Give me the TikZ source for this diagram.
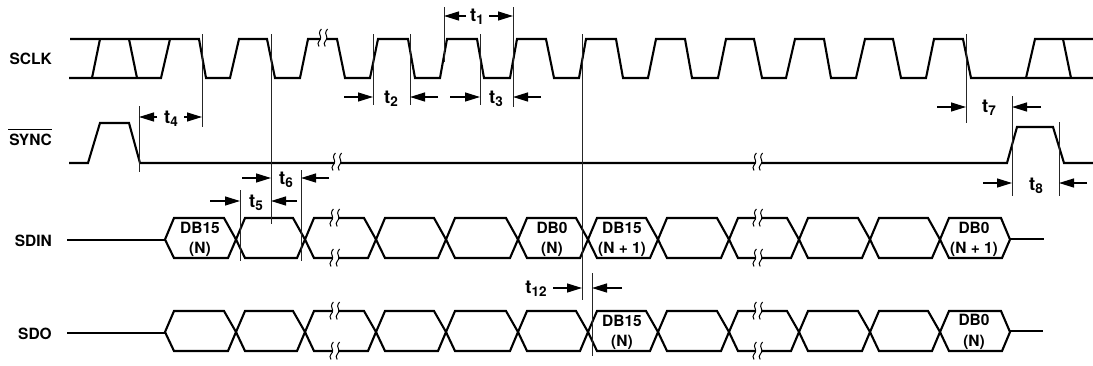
\documentclass[tikz,border=0pt]{standalone}
\usepackage{fontspec}
\setmainfont{TeX Gyre Heros}
\usetikzlibrary{arrows.meta}
\tikzset{
  wave/.style={line width=2.1pt,line join=miter,miter limit=3},
  guide/.style={line width=1pt,black!85},
  dim/.style={line width=1.3pt,-{Triangle[length=15pt,width=9pt]}},
  sig/.style={font=\fontsize{15.5}{15.5}\bfseries\selectfont,anchor=base east,inner sep=0pt},
  dat/.style={font=\fontsize{15.5}{15.5}\bfseries\selectfont,anchor=base,inner sep=0pt},
  tlab/.style={font=\fontsize{18.5}{18.5}\bfseries\selectfont,anchor=base,inner sep=0pt},
  brkline/.style={line width=1pt}
}
\newcommand{\tsub}[2]{t\raisebox{-3.5pt}{\fontsize{13.5}{13.5}\bfseries\selectfont #2}}
% break mark
\newcommand{\brk}[2]{%
  \fill[white] (#1-3,#2+5) -- (#1+3,#2+5) -- (#1+3.5,#2-5) -- (#1-2,#2-5) -- cycle;
  \foreach \dx in {-3,3.2}{
    \draw[brkline] (#1+\dx-1,#2+8.5) .. controls (#1+\dx-4.5,#2+4) and (#1+\dx+2,#2+2) .. (#1+\dx+0.6,#2-1)
       .. controls (#1+\dx-0.6,#2-3.5) and (#1+\dx-1.5,#2-6) .. (#1+\dx+1.4,#2-9);
  }}
% data bus: tips in a list
\newcommand{\bus}[3]{% high, low, mid
  \foreach \a/\b in {165/236,236/305,305/376,376/446,446/518,518/588,588/658,658/729,729/799,799/870,870/940}{
    \draw[wave] (\a,#3) -- (\a+9,#1) -- (\b-12,#1) -- (\b,#3) -- (\b-8,#2) -- (\a+9,#2) -- cycle;
  }
  \draw[wave] (940,#3) -- (949,#1) -- (1001,#1) -- (1010,#3) -- (1002,#2) -- (949,#2) -- cycle;
}
\begin{document}
\begin{tikzpicture}[x=1pt,y=-1pt]
\useasboundingbox (0,0) rectangle (1093,365);
% SCLK
\draw[wave] (70,39) -- (199,39) -- (206,78) -- (230,78) -- (239,39) -- (267,39) -- (275,78) -- (300,78) -- (308,39) -- (337,39) -- (345,78)
 -- (370,78) -- (378,39) -- (408,39) -- (415,78) -- (440,78) -- (447,39) -- (477,39) -- (484,78) -- (510,78) -- (517,39) -- (546,39) -- (554,78)
 -- (579,78) -- (586,39) -- (616,39) -- (623,78) -- (648,78) -- (656,39) -- (685,39) -- (692,78) -- (718,78) -- (726,39) -- (754,39) -- (762,78)
 -- (786,78) -- (795,39) -- (824,39) -- (831,78) -- (856,78) -- (865,39) -- (893,39) -- (901,78) -- (926,78) -- (934,39) -- (963,39) -- (971,78) -- (1093,78);
\draw[wave] (69,78) -- (161,78) -- (170,39);
\draw[wave] (92,78) -- (100,39);
\draw[wave] (129,39) -- (137,78);
\draw[wave] (1026,78) -- (1035,39) -- (1093,39);
\draw[wave] (1063,39) -- (1071,78);
\brk{323}{38}
% SYNC
\draw[wave] (69,163) -- (88,163) -- (100,123) -- (129,123) -- (140,163) -- (1007,163) -- (1017,127) -- (1053,127) -- (1064,163) -- (1093,163);
\brk{337}{162}
\brk{758}{162}
% SDIN
\draw[wave] (67,240) -- (165,240);
\bus{218}{258}{239.5}
\draw[wave] (1010,239) -- (1044,239);
\brk{335}{218}\brk{335}{258}\brk{758}{218}\brk{758}{258}
% SDO
\draw[wave] (67,333) -- (165,333);
\bus{311}{351}{332}
\draw[wave] (1010,331) -- (1043,331);
\brk{335}{311}\brk{335}{351}\brk{758}{311}\brk{758}{351}
% guides
\foreach \x/\ya/\yb in {202/34/127, 271/34/224, 139/106/172, 373/34/105, 410/34/105, 480/34/105, 513/7/107, 444/7/62, 582/34/300, 592/273/356, 966/34/123, 1012/96/196, 1059/122/196, 240/190/261, 301/170/261}
  \draw[guide] (\x,\ya) -- (\x,\yb);
% dimension arrows
\foreach \a/\b/\y in {157/139/117, 184/202/117, 344/373/97, 438/410/97, 450/480/97, 541/513/97, 466/444/16, 489/513/16, 553/582/288, 622/592/288, 937/966/107, 1041/1012/107, 983/1012/183, 1087/1059/183, 210/240/201, 297/271/201, 242/271/178, 329/301/178}
  \draw[dim] (\a,\y) -- (\b,\y);
% signal names
\node[sig] (sclk) at (52,64.5) {SCLK};
\node[sig] (sync) at (52,145) {SYNC};
\draw[line width=1pt] (8,129) -- (52,129);
\node[sig] (sdin) at (52,246.5) {SDIN};
\node[sig] (sdo) at (52,339.5) {SDO};
% data labels
\node[dat] (a1) at (200,233.5) {DB15};
\node[dat] (a2) at (200,253.5) {(N)};
\node[dat] (b1) at (552,233.5) {DB0};
\node[dat] (b2) at (552,253.5) {(N)};
\node[dat] (c1) at (622,233.5) {DB15};
\node[dat] (c2) at (622,253.5) {(N + 1)};
\node[dat] (d1) at (974,233.5) {DB0};
\node[dat] (d2) at (974,253) {(N + 1)};
\node[dat] (e1) at (622,326.5) {DB15};
\node[dat] (e2) at (622,346) {(N)};
\node[dat] (f1) at (974,325.5) {DB0};
\node[dat] (f2) at (974,346) {(N)};
% timing labels
\node[tlab] (t1) at (477,21) {\tsub{t}{1}};
\node[tlab] (t2) at (391,103) {\tsub{t}{2}};
\node[tlab] (t3) at (496,103) {\tsub{t}{3}};
\node[tlab] (t4) at (171,123) {\tsub{t}{4}};
\node[tlab] (t5) at (256,207) {\tsub{t}{5}};
\node[tlab] (t6) at (286,184) {\tsub{t}{6}};
\node[tlab] (t7) at (989,112) {\tsub{t}{7}};
\node[tlab] (t8) at (1036,190) {\tsub{t}{8}};
\node[tlab] (t12) at (536,293) {\tsub{t}{12}};
\end{tikzpicture}
\end{document}
